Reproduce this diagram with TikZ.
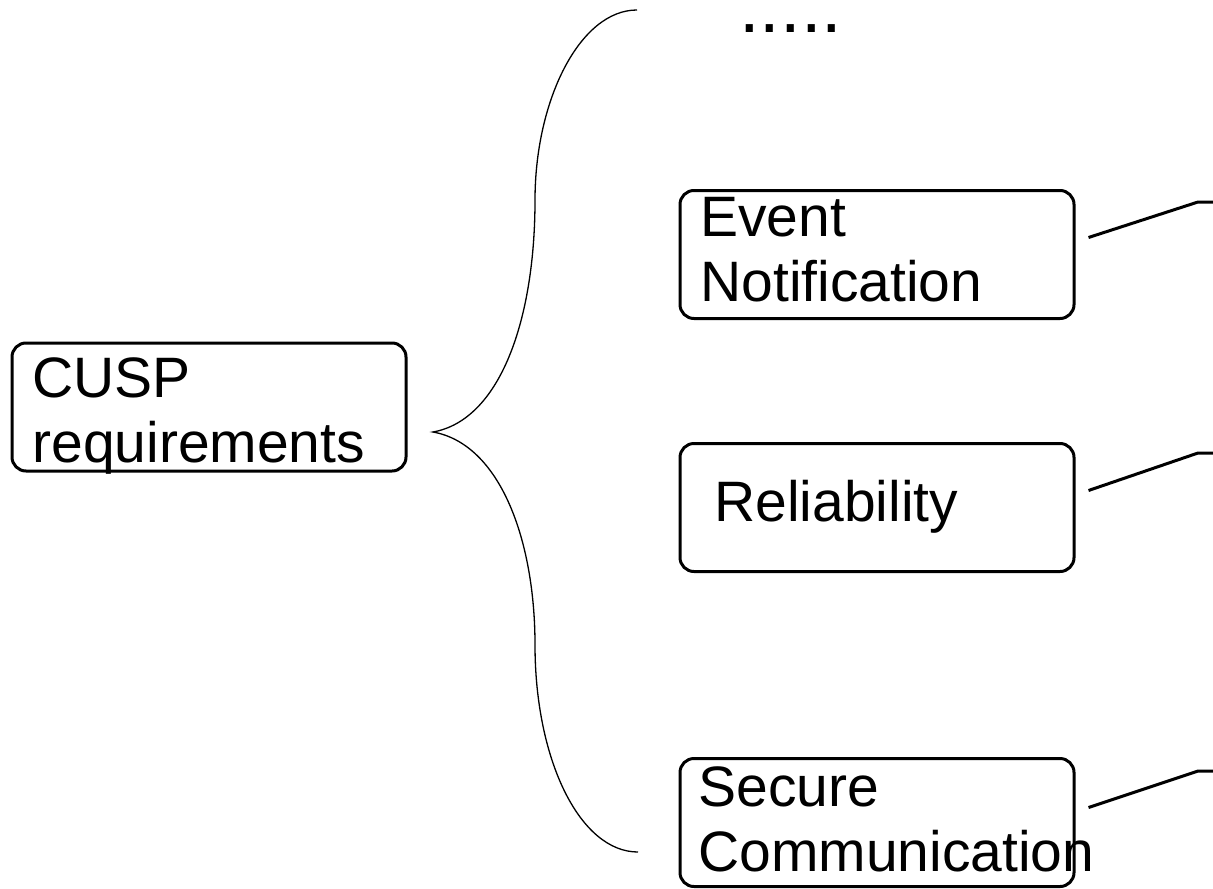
\documentclass[tikz,border=0pt]{standalone}
\usepackage{fontspec}
\setmainfont{Liberation Sans}
\usepackage{tikz}
\usetikzlibrary{positioning, calc}

\begin{document}
\begin{tikzpicture}[x=0.5pt, y=-0.5pt,
    reqbox/.style={draw, rectangle, rounded corners=7pt, line width=1.5pt,
                   minimum width=197pt, minimum height=64pt, inner sep=0pt},
    reqtext/.style={anchor=north west, align=left, inner sep=0pt,
                    font=\fontsize{28.5}{32.5}\selectfont},
    link/.style={line width=1.5pt},
    brace/.style={line width=0.65pt}]
  \useasboundingbox (0,0) rectangle (1213,888);

  % Root requirement
  \node[reqbox] (cusp) at (209,407) {};
  \node[reqtext] (cusp-txt) at (32,357) {CUSP\\requirements};

  % Sub requirements
  \node[reqbox] (event) at (877,254.5) {};
  \node[reqtext] (event-txt) at (700,197) {Event\\Notification};
  \node[reqbox] (relia) at (877,507.5) {};
  \node[reqtext] (relia-txt) at (714,480) {Reliability};
  \node[reqbox] (secure) at (877,822.5) {};
  \node[reqtext] (secure-txt) at (698,766) {Secure\\Communication};

  % More items
  \node[anchor=base west, inner sep=0pt, text height=6pt, text depth=0pt,
        font=\fontsize{37}{40}\selectfont] (more) at (739,33) {.....};

  % Curly brace
  \draw[brace] (637,10) .. controls (580,10) and (535,100) .. (535,200)
    .. controls (535,320) and (500,420) .. (433,432)
    .. controls (500,444) and (535,540) .. (535,645)
    .. controls (535,760) and (580,852) .. (638,852);

  % Callout lines
  \coordinate (event-bend) at (1198,202);
  \coordinate (event-end) at (1213,202);
  \coordinate (relia-bend) at (1198,453);
  \coordinate (relia-end) at (1213,453);
  \coordinate (secure-bend) at (1198,771);
  \coordinate (secure-end) at (1213,771);
  \draw[link] ($(event.east)+(13,-17)$) -- (event-bend) -- (event-end);
  \draw[link] ($(relia.east)+(13,-17)$) -- (relia-bend) -- (relia-end);
  \draw[link] ($(secure.east)+(13,-15)$) -- (secure-bend) -- (secure-end);
\end{tikzpicture}
\end{document}
